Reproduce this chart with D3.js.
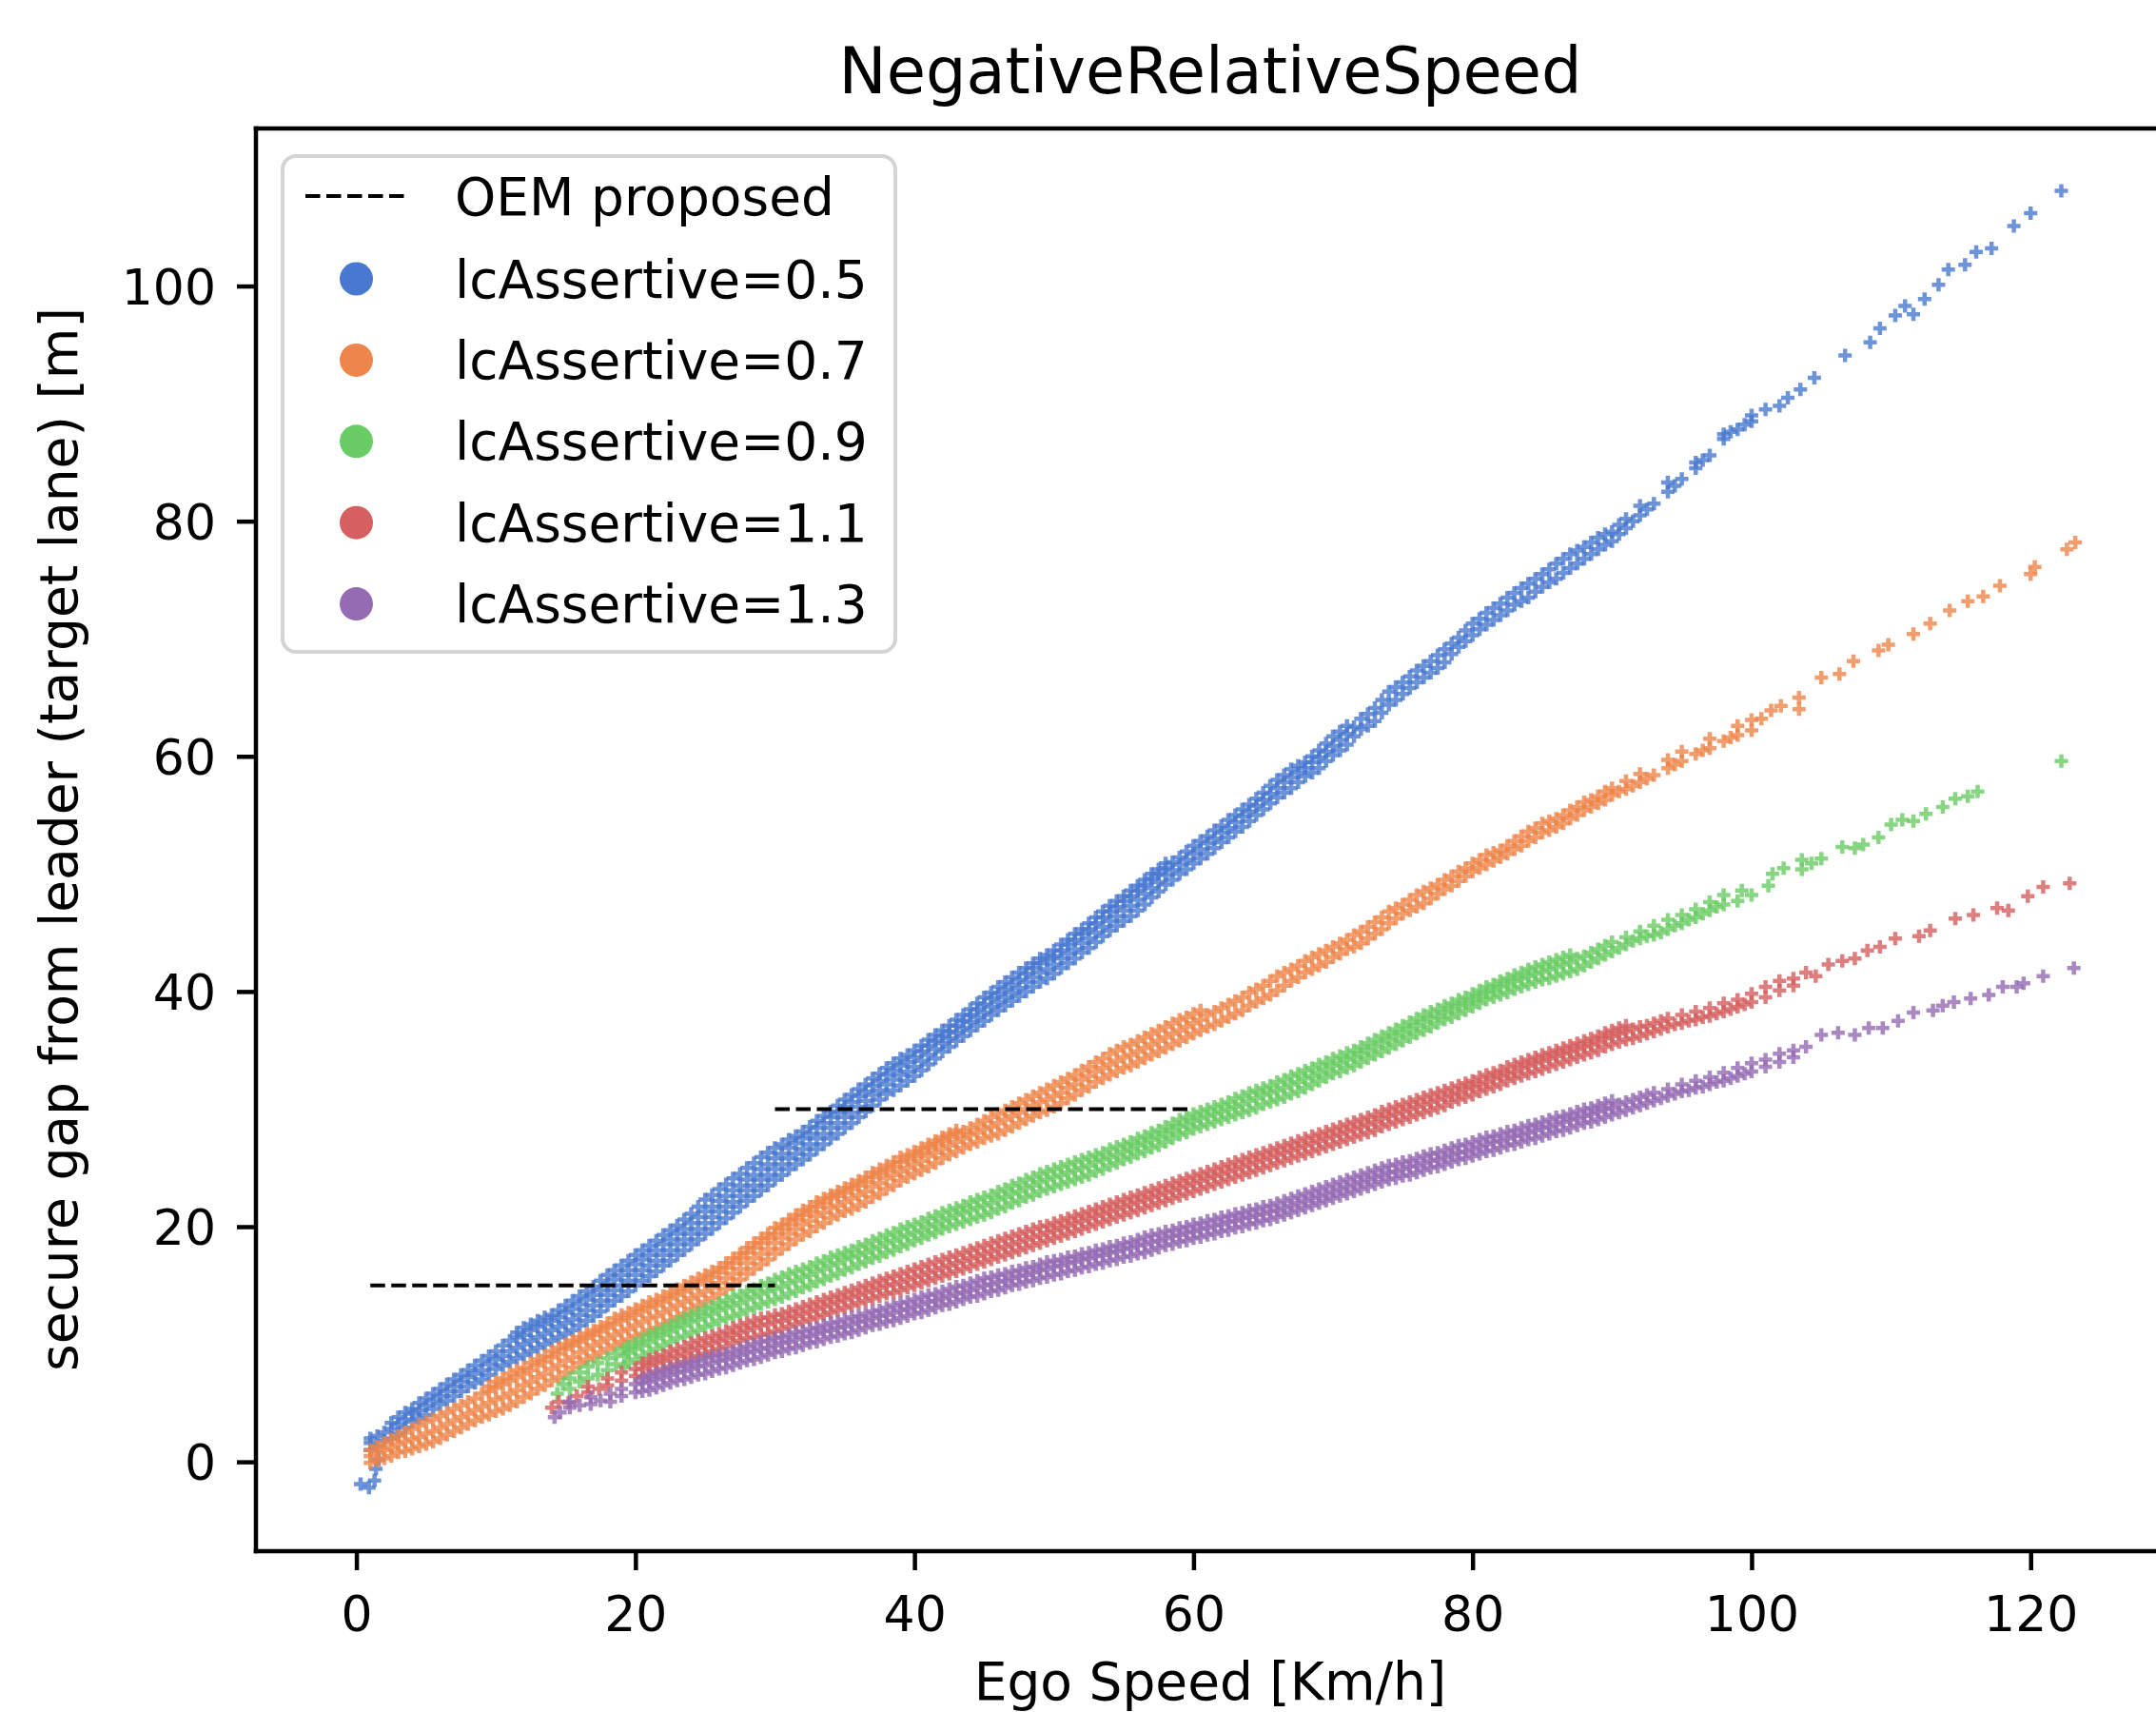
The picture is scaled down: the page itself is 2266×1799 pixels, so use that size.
<!DOCTYPE html>
<html>
<head>
<meta charset="utf-8">
<script src="https://cdn.jsdelivr.net/npm/d3@7"></script>
<style>
  body { margin: 0; background: #fff; }
  text { font-family: "DejaVu Sans", sans-serif; fill: #000; }
</style>
</head>
<body>
<svg id="chart"></svg>
<script>
// tick labels
var speedTicks = [0, 20, 40, 60, 80, 100, 120];
var gapTicks = [0, 20, 40, 60, 80, 100];

var seriesNames = ["lcAssertive=0.5", "lcAssertive=0.7", "lcAssertive=0.9", "lcAssertive=1.1", "lcAssertive=1.3"];
var seriesColors = ["#4878d0", "#ee854a", "#6acc64", "#d65f5f", "#956cb4"];

// OEM proposed gap: [from speed, to speed, gap]
var oemSegments = [[1, 30, 15], [30, 60, 30]];

var gap05 = [
  [0.3,-1.9],[0.9,-2.2],[1.3,-1.6],[1.4,-0.6],[1.6,0.2],
  [1,1.0,1.6,2.0],[2,1.8,2.5],[3,2.4,3.2,3.8],[4,3.4,4.1,4.5],[5,4.0,4.8,5.4],
  [6,4.9,5.6,6.2],[7,5.6,6.4,7.0],[8,6.4,7.2,7.8],[9,7.0,7.8,8.6],[10,7.9,8.7,9.4],
  [11,8.5,9.4,10.3],[12,9.1,10.0,10.8,11.4],[13,9.7,10.6,11.5,12.0],[14,10.3,11.2,12.0,12.5],[15,10.9,11.8,12.7,13.3],
  [16,11.6,12.5,13.4,14.1],[17,12.4,13.3,14.2,14.9],[18,13.3,14.2,15.1,15.9],[19,14.1,15.0,15.9,16.7],[20,15.0,15.9,16.8,17.6],
  [21,15.8,16.7,17.6,18.4],[22,16.7,17.6,18.5,19.3],[23,17.6,18.5,19.4,20.1],[24,18.5,19.4,20.3,21.1],[25,19.4,20.3,21.3,22.3],
  [26,20.3,21.3,22.2,23.2],[27,21.2,22.1,23.1,24.1],[28,22.2,23.1,24.0,25.0],[29,23.1,24.0,24.9,25.9],[30,24.0,24.9,25.8,26.7],
  [31,24.9,25.8,26.7,27.4],[32,25.7,26.6,27.5,28.1],[33,26.6,27.5,28.4,29.0],[34,27.5,28.4,29.3,29.8],[35,28.4,29.3,30.2,30.8],
  [36,29.3,30.2,31.1,31.7],[37,30.3,31.2,32.0,32.6],[38,31.3,32.1,32.9,33.5],[39,32.0,32.9,33.7,34.3],[40,32.8,33.6,34.4,35.0],
  [41,33.8,34.6,35.4,35.9],[42,34.9,35.6,36.2,36.7],[43,35.8,36.5,37.1,37.6],[44,36.7,37.4,38.0,38.5],[45,37.5,38.2,38.9,39.5],
  [46,38.4,39.1,39.8,40.4],[47,39.2,39.9,40.6,41.2],[48,40.0,40.8,41.5,42.0],[49,40.8,41.6,42.4,42.8],[50,41.5,42.3,43.0,43.5],
  [51,42.4,43.2,44.0,44.4],[52,43.3,44.1,44.9,45.3],[53,44.2,45.0,45.8,46.3],[54,45.2,46.0,46.8,47.3],[55,46.0,46.9,47.7,48.1],
  [56,46.9,47.8,48.6,49.0],[57,48.0,48.8,49.6,50.0],[58,49.1,49.9,50.5,50.9],[59,50.0,50.8,51.4],[60,50.9,51.7,52.4],
  [61,51.7,52.6,53.2],[62,52.7,53.5,54.1],[63,53.6,54.4,55.0],[64,54.5,55.3,55.9],[65,55.5,56.3,56.9],
  [66,56.5,57.3,58.0],[67,57.3,58.2,58.9],[68,58.3,59.0,59.5],[69,59.0,59.9,60.5],[70,60.1,60.9,61.7],
  [71,61.0,61.9,62.6],[72,62.3,63.2],[73,63.0,64.1],[74,64.4,65.5],[75,65.3,66.3],
  [76,66.3,67.3],[77,67.1,68.1],[78,68.0,69.1],[79,69.3,70.1],[80,70.3,71.3],
  [81,71.2,72.2],[82,72.0,73.0],[83,72.9,73.9],[84,73.5,74.7],[85,74.4,75.5],
  [86,75.1,76.4],[87,76.0,77.2],[88,76.8,77.8],[89,77.6,78.6],[90,78.3,79.1],
  [91,79.4,80.2],[92,80.5,81.3],[93,81.5],[94,82.5,83.3],[95,83.6],[96,84.5,85.0],[97,85.6],[98,87.0,87.4],[99,87.8],[100,88.5,89.0],
  [101,89.5],[102,89.8],[102.6,90.5],[103.5,91.2],[104.5,92.2],[106.7,94.1],[108.5,95.2],[109.2,96.4],[110.3,97.5],[111,98.3],
  [111.6,97.6],[112.4,98.9],[113.4,100.1],[114.1,101.4],[115.3,101.8],[116.1,102.9],[117.2,103.2],[118.8,105.1],[120,106.2],[122.2,108.1],
  // in-between samples
  [1.5,1.3,2.2],[2.5,2.0,2.8,3.3],[3.5,2.9,3.6,4.2],[4.5,3.7,4.4,5.0],[5.5,4.5,5.2,5.8],
  [6.5,5.2,6.0,6.6],[7.5,6.0,6.8,7.4],[8.5,6.7,7.5,8.2],[9.5,7.4,8.3,9.0],[10.5,8.2,9.0,9.9],
  [11.5,8.8,9.7,10.6,11.0],[12.5,9.4,10.3,11.2,11.7],[13.5,10.0,10.9,11.7,12.3],[14.5,10.6,11.5,12.3,12.9],[15.5,11.2,12.1,13.0,13.7],
  [16.5,12.0,12.9,13.8,14.5],[17.5,12.8,13.7,14.6,15.4],[18.5,13.7,14.6,15.5,16.3],[19.5,14.5,15.4,16.3,17.1],[20.5,15.4,16.3,17.2,18.0],
  [21.5,16.2,17.1,18.0,18.8],[22.5,17.1,18.0,18.9,19.7],[23.5,18.0,18.9,19.8,20.6],[24.5,18.9,19.8,20.8,21.7],[25.5,19.8,20.8,21.7,22.7],
  [26.5,20.7,21.7,22.6,23.6],[27.5,21.7,22.6,23.5,24.5],[28.5,22.6,23.5,24.4,25.4],[29.5,23.5,24.4,25.3,26.3],[30.5,24.4,25.3,26.2,27.0],
  [31.5,25.3,26.2,27.1,27.7],[32.5,26.1,27.0,27.9,28.5],[33.5,27.0,27.9,28.8,29.4],[34.5,27.9,28.8,29.7,30.3],[35.5,28.8,29.7,30.6,31.2],
  [36.5,29.8,30.7,31.5,32.1],[37.5,30.8,31.6,32.4,33.0],[38.5,31.6,32.5,33.3,33.9],[39.5,32.4,33.2,34.0,34.6],[40.5,33.3,34.1,34.9,35.4],
  [41.5,34.3,35.1,35.8,36.3],[42.5,35.3,36.0,36.6,37.1],[43.5,36.2,36.9,37.5,38.0],[44.5,37.1,37.8,38.5,39.0],[45.5,38.0,38.7,39.4,39.9],
  [46.5,38.8,39.5,40.2,40.8],[47.5,39.6,40.3,41.0,41.6],[48.5,40.4,41.2,42.0,42.4],[49.5,41.1,41.9,42.7,43.1],[50.5,42.0,42.8,43.5,44.0],
  [51.5,42.8,43.6,44.4,44.9],[52.5,43.7,44.5,45.3,45.8],[53.5,44.7,45.5,46.3,46.8],[54.5,45.6,46.4,47.2,47.7],[55.5,46.4,47.3,48.1,48.6],
  [56.5,47.4,48.3,49.1,49.5],[57.5,48.5,49.3,50.0,50.4],[58.5,49.5,50.3,51.0],[59.5,50.4,51.2,51.9],[60.5,51.3,52.1,52.8],
  [61.5,52.2,53.0,53.7],[62.5,53.1,53.9,54.6],[63.5,54.0,54.9,55.5],[64.5,55.0,55.8,56.4],[65.5,56.0,56.8,57.5],
  [66.5,56.9,57.8,58.4],[67.5,57.8,58.6,59.2],[68.5,58.6,59.5,60.0],[69.5,59.6,60.4,61.1],[70.5,60.5,61.4,62.1],
  [71.5,61.7,62.5],[72.5,62.6,63.6],[73.5,63.7,64.8],[74.5,64.8,65.9],[75.5,65.8,66.8],
  [76.5,66.7,67.7],[77.5,67.5,68.6],[78.5,68.7,69.6],[79.5,69.8,70.7],[80.5,70.8,71.7],
  [81.5,71.6,72.6],[82.5,72.4,73.5],[83.5,73.2,74.3],[84.5,74.0,75.1],[85.5,74.8,75.9],
  [86.5,75.6,76.8],[87.5,76.4,77.5],[88.5,77.2,78.2],[89.5,78.0,78.9],[90.5,78.9,79.7],
  [91.5,80.0],[92.5,81.0],[94.5,83.0],[96.5,85.2],[98.5,87.6],[99.5,88.2]
];

var gap07 = [
  [1,-0.1,0.5,1.0],[2,0.3,1.0,1.6],[3,0.8,1.5,2.2],[4,1.1,1.9,2.8],[5,1.5,2.4,3.4],
  [6,2.0,2.9,3.9],[7,2.6,3.5,4.5],[8,3.2,4.1,5.1],[9,3.8,4.7,5.8],[10,4.3,5.3,6.3,6.8],
  [11,4.8,5.8,6.9,7.5],[12,5.5,6.5,7.5,8.0],[13,6.2,7.2,8.2,8.7],[14,6.9,7.9,8.9,9.4],[15,7.6,8.6,9.6,10.0],
  [16,8.4,9.3,10.2,10.6],[17,9.0,9.9,10.8,11.2],[18,9.6,10.5,11.4,11.8],[19,10.2,11.1,12.0,12.5],[20,10.7,11.6,12.5,13.0],
  [21,11.2,12.2,13.1,13.6],[22,11.7,12.7,13.6,14.1],[23,12.3,13.3,14.2,14.7],[24,13.0,13.9,14.8,15.3],[25,13.6,14.5,15.4,15.9],
  [26,14.3,15.2,16.1,16.5],[27,15.1,16.0,16.9,17.3],[28,16.0,16.9,17.8,18.2],[29,16.8,17.7,18.6,19.0],[30,17.7,18.6,19.4,19.9],
  [31,18.5,19.4,20.2,20.6],[32,19.3,20.2,21.0,21.4],[33,20.0,20.9,21.7,22.1],[34,20.7,21.6,22.4,22.7],[35,21.3,22.1,22.9,23.3],
  [36,21.8,22.7,23.5,23.9],[37,22.5,23.4,24.2,24.6],[38,23.2,24.1,24.8,25.2],[39,23.9,24.7,25.5,25.9],[40,24.5,25.3,26.0,26.4],
  [41,25.1,26.0,26.7,27.0],[42,25.8,26.6,27.3,27.6],[43,26.4,27.2,27.9,28.2],[44,27.0,27.8,28.4],[45,27.5,28.3,29.0],
  [46,27.9,28.8,29.6],[47,28.5,29.4,30.2],[48,29.1,30.0,30.8],[49,29.7,30.6,31.4],[50,30.2,31.1,32.0],
  [51,30.9,31.8,32.6],[52,31.6,32.5,33.3],[53,32.3,33.2,34.0],[54,32.9,33.8,34.7],[55,33.5,34.4,35.3],
  [56,34.0,34.9,35.8],[57,34.6,35.5,36.4],[58,35.2,36.1,37.0],[59,35.8,36.7,37.6],[60,36.4,37.3,38.1],
  [61,37.0,38.0],[62,37.5,38.6],[63,38.1,39.2],[64,38.8,39.9],[65,39.4,40.5],
  [66,40.1,41.3],[67,40.9,41.9],[68,41.6,42.6],[69,42.2,43.2],[70,42.9,43.8],
  [71,43.6,44.4],[72,44.1,45.1],[73,44.9,45.9],[74,45.8,46.8],[75,46.6,47.4],
  [76,47.2,48.2],[77,47.9,48.8],[78,48.7,49.5],[79,49.4,50.2],[80,50.2,50.9],
  [81,50.8,51.6],[82,51.4,52.0],[83,52.1,52.8],[84,52.8,53.6],[85,53.5,54.3],
  [86,54.0,54.7],[87,54.7,55.4],[88,55.4,56.1],[89,56.0,56.6],[90,56.7,57.3],
  [91,57.2,57.9],[92,57.8,58.5],[93,58.4],[94,59.0,59.7],[95,59.6,60.4],[96,60.2],[97,60.7,61.5],[98,61.3],[99,61.8,62.6],[100,62.2,63.1],
  [100.7,63.2],[101.4,63.9],[102.1,64.3],[103.4,64.0,65.0],[105,66.7],[106.3,67.0],[107.3,68.1],[109.1,69.0],[109.8,69.5],[111.6,70.4],
  [112.8,71.3],[114.2,72.4],[115.5,73.2],[116.6,73.6],[117.8,74.5],[120,75.5],[120.3,76.1],[122.6,77.6],[123.2,78.2],
  // in-between samples
  [1.5,0.1,0.8,1.3],[2.5,0.5,1.2,1.9],[3.5,0.9,1.7,2.5],[4.5,1.3,2.1,3.1],[5.5,1.7,2.6,3.6],
  [6.5,2.3,3.2,4.2],[7.5,2.9,3.8,4.8],[8.5,3.5,4.4,5.4],[9.5,4.0,5.0,6.0,6.4],[10.5,4.5,5.5,6.6,7.1],
  [11.5,5.1,6.1,7.2,7.8],[12.5,5.8,6.8,7.8,8.4],[13.5,6.5,7.5,8.5,9.0],[14.5,7.2,8.2,9.2,9.7],[15.5,8.0,8.9,9.9,10.3],
  [16.5,8.7,9.6,10.5,10.9],[17.5,9.3,10.2,11.1,11.5],[18.5,9.9,10.8,11.7,12.2],[19.5,10.4,11.3,12.2,12.7],[20.5,10.9,11.9,12.8,13.3],
  [21.5,11.4,12.4,13.3,13.8],[22.5,12.0,13.0,13.9,14.4],[23.5,12.6,13.6,14.5,15.0],[24.5,13.3,14.2,15.1,15.6],[25.5,13.9,14.8,15.7,16.2],
  [26.5,14.7,15.6,16.5,16.9],[27.5,15.5,16.4,17.3,17.7],[28.5,16.4,17.3,18.2,18.6],[29.5,17.2,18.1,19.0,19.4],[30.5,18.1,19.0,19.8,20.2],
  [31.5,18.9,19.8,20.6,21.0],[32.5,19.6,20.5,21.3,21.7],[33.5,20.3,21.2,22.0,22.4],[34.5,21.0,21.8,22.6,23.0],[35.5,21.5,22.4,23.2,23.6],
  [36.5,22.1,23.0,23.8,24.2],[37.5,22.8,23.7,24.5,24.9],[38.5,23.5,24.4,25.1,25.5],[39.5,24.2,25.0,25.7,26.1],[40.5,24.8,25.6,26.3,26.7],
  [41.5,25.4,26.3,27.0,27.3],[42.5,26.1,26.9,27.6,27.9],[43.5,26.7,27.5,28.1],[44.5,27.2,28.0,28.7],[45.5,27.7,28.5,29.3],
  [46.5,28.2,29.1,29.9],[47.5,28.8,29.7,30.5],[48.5,29.4,30.3,31.1],[49.5,29.9,30.8,31.7],[50.5,30.5,31.4,32.3],
  [51.5,31.2,32.1,32.9],[52.5,31.9,32.8,33.6],[53.5,32.6,33.5,34.3],[54.5,33.2,34.1,35.0],[55.5,33.7,34.6,35.5],
  [56.5,34.3,35.2,36.1],[57.5,34.9,35.8,36.7],[58.5,35.5,36.4,37.3],[59.5,36.1,37.0,37.8],[60.5,36.7,37.6,38.4],
  [61.5,37.2,38.3],[62.5,37.8,38.9],[63.5,38.4,39.5],[64.5,39.1,40.2],[65.5,39.7,40.9],
  [66.5,40.5,41.6],[67.5,41.2,42.2],[68.5,41.9,42.9],[69.5,42.5,43.5],[70.5,43.2,44.1],
  [71.5,43.8,44.8],[72.5,44.5,45.5],[73.5,45.3,46.3],[74.5,46.2,47.1],[75.5,46.9,47.8],
  [76.5,47.5,48.5],[77.5,48.3,49.1],[78.5,49.0,49.8],[79.5,49.8,50.5],[80.5,50.5,51.2],
  [81.5,51.1,51.8],[82.5,51.7,52.4],[83.5,52.4,53.2],[84.5,53.1,53.9],[85.5,53.7,54.5],
  [86.5,54.3,55.0],[87.5,55.0,55.7],[88.5,55.7,56.3],[89.5,56.3,57.0],[90.5,57.0],
  [91.5,57.5],[92.5,58.1],[94.5,59.3],[96.5,60.5],[98.5,61.6]
];

var gap09 = [
  [14.4,5.8],[14.8,6.6],[15.3,6.2,7.1],[16,6.8,7.6],[16.6,7.1,8.1],[17.3,7.4,8.4],[18,7.8,8.8],[18.6,8.3,9.2],
  [19.2,8.1,9.0,9.6],[20,8.7,9.6,10.1],[21,9.3,10.2,10.8],[22,9.9,10.8,11.3],[23,10.5,11.4,11.9],
  [24,11.0,11.9,12.5],[25,11.5,12.4,13.0],[26,12.0,12.9,13.5],[27,12.4,13.3,14.0],[28,12.9,13.8,14.5],
  [29,13.4,14.3,15.0],[30,13.8,14.7,15.5],[31,14.3,15.2,16.0],[32,14.8,15.7,16.4],[33,15.3,16.2,16.9],
  [34,15.8,16.7,17.4],[35,16.3,17.2,17.8],[36,16.8,17.6,18.3],[37,17.3,18.1,18.8],[38,17.8,18.6,19.3],
  [39,18.3,19.1,19.8],[40,18.8,19.5,20.2],[41,19.3,20.0,20.7],[42,19.8,20.5,21.2],[43,20.2,21.0,21.6],
  [44,20.6,21.4,22.1],[45,21.0,21.8,22.5],[46,21.5,22.3,23.0],[47,22.0,22.8,23.5],[48,22.5,23.3,24.0],
  [49,23.0,23.8,24.5],[50,23.4,24.2,24.9],[51,23.8,24.6,25.3],[52,24.2,25.0,25.7],[53,24.7,25.5,26.1],
  [54,25.2,25.9,26.6],[55,25.7,26.4,27.0],[56,26.2,26.9,27.5],[57,26.7,27.4,28.0],[58,27.2,27.9,28.5],
  [59,27.8,28.5,29.1],[60,28.3,29.0,29.6],[61,28.7,29.4,30.0],[62,29.1,29.8,30.4],[63,29.5,30.2,30.9],
  [64,29.9,30.7,31.4],[65,30.4,31.2,31.8],[66,30.8,31.6,32.3],[67,31.3,32.1,32.8],[68,31.8,32.6,33.3],
  [69,32.4,33.1,33.8],[70,33.0,33.7,34.3],[71,33.5,34.2,34.8],[72,34.0,34.7,35.3],[73,34.6,35.3,35.9],
  [74,35.2,35.9,36.5],[75,35.8,36.5,37.1],[76,36.4,37.1,37.7],[77,37.0,37.7,38.3],[78,37.6,38.2,38.8],
  [79,38.1,38.8,39.3],[80,38.7,39.3,39.8],[81,39.3,39.9,40.4],[82,39.7,40.4,40.9],[83,40.2,40.9,41.4],
  [84,40.6,41.3,41.9],[85,41.0,41.7,42.3],[86,41.3,42.1,42.7],[87,41.7,42.5,43.1],[88,42.2,43.0],
  [89,42.8,43.6],[90,43.4,44.2],[91,44.0,44.6],[92,44.5,45.1],[93,44.8,45.6],[94,45.3,46.1],[95,45.8,46.5],
  [96,46.3,47.0],[97,46.9,47.6],[98,47.4,48.2],[99,47.7],[99.3,48.6],[100,48.2],[101.2,49.0],[101.5,50.0],
  [102.3,50.5],[103.6,50.4,51.2],[104.3,50.9],[105,51.3],[106.5,52.3],[107.4,52.2],[108,52.5],[109.1,53.1],
  [110,54.2],[110.8,54.6],[111.6,54.5],[112.5,55.1],[113.7,55.7],[114.6,56.4],[115.5,56.6],[116.2,57.0],[122.2,59.6],
  // in-between samples
  [19.5,8.4,9.3,9.8],[20.5,9.0,9.9,10.4],[21.5,9.6,10.5,11.0],[22.5,10.2,11.1,11.6],[23.5,10.7,11.6,12.2],
  [24.5,11.2,12.1,12.7],[25.5,11.7,12.6,13.2],[26.5,12.2,13.1,13.7],[27.5,12.6,13.5,14.2],[28.5,13.1,14.0,14.7],
  [29.5,13.6,14.5,15.2],[30.5,14.0,14.9,15.7],[31.5,14.5,15.4,16.2],[32.5,15.0,15.9,16.6],[33.5,15.5,16.4,17.1],
  [34.5,16.0,16.9,17.6],[35.5,16.5,17.4,18.0],[36.5,17.0,17.8,18.5],[37.5,17.5,18.3,19.0],[38.5,18.0,18.8,19.5],
  [39.5,18.5,19.3,20.0],[40.5,19.0,19.7,20.4],[41.5,19.5,20.2,20.9],[42.5,20.0,20.7,21.4],[43.5,20.4,21.2,21.8],
  [44.5,20.8,21.6,22.3],[45.5,21.2,22.0,22.7],[46.5,21.7,22.5,23.2],[47.5,22.2,23.0,23.7],[48.5,22.7,23.5,24.2],
  [49.5,23.2,24.0,24.7],[50.5,23.6,24.4,25.1],[51.5,24.0,24.8,25.5],[52.5,24.4,25.2,25.9],[53.5,24.9,25.7,26.3],
  [54.5,25.4,26.1,26.8],[55.5,25.9,26.6,27.2],[56.5,26.4,27.1,27.7],[57.5,26.9,27.6,28.2],[58.5,27.5,28.2,28.8],
  [59.5,28.0,28.7,29.3],[60.5,28.5,29.2,29.8],[61.5,28.9,29.6,30.2],[62.5,29.3,30.0,30.6],[63.5,29.7,30.4,31.1],
  [64.5,30.1,30.9,31.6],[65.5,30.6,31.4,32.0],[66.5,31.0,31.8,32.5],[67.5,31.5,32.3,33.0],[68.5,32.1,32.8,33.5],
  [69.5,32.7,33.4,34.0],[70.5,33.2,33.9,34.5],[71.5,33.7,34.4,35.0],[72.5,34.3,35.0,35.6],[73.5,34.9,35.6,36.2],
  [74.5,35.5,36.2,36.8],[75.5,36.1,36.8,37.4],[76.5,36.7,37.4,38.0],[77.5,37.3,37.9,38.5],[78.5,37.8,38.5,39.0],
  [79.5,38.4,39.0,39.5],[80.5,39.0,39.6,40.1],[81.5,39.5,40.1,40.6],[82.5,39.9,40.6,41.1],[83.5,40.4,41.1,41.6],
  [84.5,40.8,41.5,42.1],[85.5,41.1,41.9,42.5],[86.5,41.5,42.3,42.9],[87.5,41.9,42.8],[88.5,42.5,43.3],
  [89.5,43.1,43.9],[90.5,43.7],[91.5,44.3],[92.5,44.7],[93.5,45.0],[94.5,45.6],[95.5,46.1],[96.5,46.6],[97.5,47.2]
];

var gap11 = [
  [14.0,4.6],[14.5,5.1],[15.2,5.0],[15.8,5.6],[16.6,5.9,6.4],[17.4,6.2],[18,6.5,7.1],[19,6.9,7.6],[20,7.3,7.9],
  [21,7.5,8.2,8.7],[22,7.9,8.6,9.1],[23,8.3,9.0,9.6],[24,8.8,9.5,10.1],[25,9.2,9.9,10.5],
  [26,9.6,10.3,10.9],[27,10.1,10.8,11.4],[28,10.5,11.2,11.8],[29,10.8,11.6,12.2],[30,11.1,11.9,12.5],
  [31,11.5,12.2,12.8],[32,11.9,12.6,13.2],[33,12.3,13.0,13.6],[34,12.7,13.4,14.0],[35,13.1,13.8,14.4],
  [36,13.5,14.2,14.8],[37,13.9,14.6,15.2],[38,14.3,15.0,15.6],[39,14.6,15.3,16.0],[40,15.0,15.7,16.4],
  [41,15.4,16.1,16.8],[42,15.8,16.5,17.2],[43,16.2,16.9,17.6],[44,16.6,17.3,18.0],[45,17.0,17.7,18.4],
  [46,17.4,18.1,18.8],[47,17.8,18.5,19.2],[48,18.2,18.9,19.6],[49,18.6,19.3,20.0],[50,19.0,19.7,20.3],
  [51,19.4,20.1,20.7],[52,19.8,20.5,21.1],[53,20.2,20.9,21.5],[54,20.6,21.3,21.9],[55,21.0,21.7,22.3],
  [56,21.4,22.1,22.7],[57,21.8,22.5,23.1],[58,22.2,22.9,23.5],[59,22.6,23.3,23.9],[60,23.0,23.7,24.3],
  [61,23.4,24.1,24.7],[62,23.8,24.5,25.1],[63,24.2,24.9,25.5],[64,24.6,25.3,25.9],[65,25.0,25.7,26.3],
  [66,25.4,26.1,26.7],[67,25.8,26.5,27.1],[68,26.2,26.9,27.5],[69,26.6,27.3,27.9],[70,27.0,27.7,28.3],
  [71,27.4,28.1,28.7],[72,27.8,28.5,29.1],[73,28.2,28.9,29.5],[74,28.7,29.4,30.0],[75,29.1,29.8,30.4],
  [76,29.5,30.2,30.8],[77,29.9,30.6,31.2],[78,30.3,31.0,31.6],[79,30.8,31.4,32.0],[80,31.2,31.9,32.4],
  [81,31.7,32.3,32.9],[82,32.1,32.8,33.3],[83,32.6,33.2,33.8],[84,33.0,33.7,34.2],[85,33.4,34.1,34.6],
  [86,33.8,34.5,35.0],[87,34.2,34.9,35.4],[88,34.6,35.3,35.8],[89,35.0,35.7,36.2],[90,35.5,36.2,36.7],
  [91,35.9,36.6,37.1],[92,36.2,37.0],[93,36.6,37.3],[94,37.0,37.7],[95,37.3,38.0],[96,37.6,38.3],
  [97,37.9,38.6],[98,38.3,39.0],[99,38.7,39.3],[100,39.1,39.8],[101,39.5,40.4],[102,40.1,40.9],[103,40.5,41.1],
  [103.9,41.6],[104.6,41.3],[105.5,42.3],[106.5,42.6],[107.4,42.8],[108.3,43.5],[109.2,43.8],[110.3,44.5],
  [112.0,44.7],[112.8,45.2],[114.6,46.2],[115.9,46.5],[117.6,47.1],[118.4,46.9],[119.8,48.1],[120.9,48.9],[122.8,49.2],
  // in-between samples
  [20.5,7.2,7.9,8.4],[21.5,7.7,8.4,8.9],[22.5,8.1,8.8,9.4],[23.5,8.5,9.2,9.8],[24.5,9.0,9.7,10.3],
  [25.5,9.4,10.1,10.7],[26.5,9.8,10.5,11.1],[27.5,10.3,11.0,11.6],[28.5,10.6,11.4,12.0],[29.5,10.9,11.7,12.3],
  [30.5,11.3,12.0,12.6],[31.5,11.7,12.4,13.0],[32.5,12.1,12.8,13.4],[33.5,12.5,13.2,13.8],[34.5,12.9,13.6,14.2],
  [35.5,13.3,14.0,14.6],[36.5,13.7,14.4,15.0],[37.5,14.1,14.8,15.4],[38.5,14.4,15.1,15.8],[39.5,14.8,15.5,16.2],
  [40.5,15.2,15.9,16.6],[41.5,15.6,16.3,17.0],[42.5,16.0,16.7,17.4],[43.5,16.4,17.1,17.8],[44.5,16.8,17.5,18.2],
  [45.5,17.2,17.9,18.6],[46.5,17.6,18.3,19.0],[47.5,18.0,18.7,19.4],[48.5,18.4,19.1,19.8],[49.5,18.8,19.5,20.1],
  [50.5,19.2,19.9,20.5],[51.5,19.6,20.3,20.9],[52.5,20.0,20.7,21.3],[53.5,20.4,21.1,21.7],[54.5,20.8,21.5,22.1],
  [55.5,21.2,21.9,22.5],[56.5,21.6,22.3,22.9],[57.5,22.0,22.7,23.3],[58.5,22.4,23.1,23.7],[59.5,22.8,23.5,24.1],
  [60.5,23.2,23.9,24.5],[61.5,23.6,24.3,24.9],[62.5,24.0,24.7,25.3],[63.5,24.4,25.1,25.7],[64.5,24.8,25.5,26.1],
  [65.5,25.2,25.9,26.5],[66.5,25.6,26.3,26.9],[67.5,26.0,26.7,27.3],[68.5,26.4,27.1,27.7],[69.5,26.8,27.5,28.1],
  [70.5,27.2,27.9,28.5],[71.5,27.6,28.3,28.9],[72.5,28.0,28.7,29.3],[73.5,28.5,29.2,29.8],[74.5,28.9,29.6,30.2],
  [75.5,29.3,30.0,30.6],[76.5,29.7,30.4,31.0],[77.5,30.1,30.8,31.4],[78.5,30.6,31.2,31.8],[79.5,31.0,31.7,32.2],
  [80.5,31.5,32.1,32.7],[81.5,31.9,32.6,33.1],[82.5,32.4,33.0,33.6],[83.5,32.8,33.5,34.0],[84.5,33.2,33.9,34.4],
  [85.5,33.6,34.3,34.8],[86.5,34.0,34.7,35.2],[87.5,34.4,35.1,35.6],[88.5,34.8,35.5,36.0],[89.5,35.3,36.0,36.5],
  [90.5,35.7,36.4,36.9],[91.5,36.0,36.8],[92.5,36.4,37.1],[93.5,36.8,37.5],[94.5,37.2],[95.5,37.5],
  [96.5,37.8],[97.5,38.1],[98.5,38.5],[99.5,38.9]
];

var gap13 = [
  [14.2,3.8],[14.6,4.2],[15.3,4.6,5.1],[16,4.8],[16.8,4.9,5.5],[17.5,5.2],[18.2,5.1,5.8],[19,5.6,6.2],[20,5.9,6.6],
  [21,6.1,6.8,7.3],[22,6.5,7.2,7.7],[23,6.9,7.6,8.1],[24,7.2,7.9,8.4],[25,7.5,8.2,8.8],
  [26,7.9,8.6,9.1],[27,8.2,8.9,9.4],[28,8.6,9.3,9.8],[29,8.9,9.6,10.2],[30,9.3,9.9,10.5],
  [31,9.6,10.2,10.8],[32,9.9,10.6,11.1],[33,10.2,10.9,11.4],[34,10.6,11.2,11.8],[35,10.9,11.5,12.1],
  [36,11.2,11.9,12.4],[37,11.6,12.2,12.8],[38,11.9,12.5,13.1],[39,12.2,12.9,13.5],[40,12.6,13.2,13.8],
  [41,12.9,13.6,14.2],[42,13.3,13.9,14.5],[43,13.6,14.3,14.9],[44,14.0,14.6,15.2],[45,14.3,15.0,15.6],
  [46,14.6,15.3,15.9],[47,15.0,15.6,16.2],[48,15.3,15.9,16.5],[49,15.6,16.3,16.8],[50,15.9,16.6,17.1],
  [51,16.2,16.9,17.4],[52,16.5,17.2,17.7],[53,16.8,17.5,18.0],[54,17.1,17.8,18.3],[55,17.4,18.1,18.6],
  [56,17.7,18.4,18.9],[57,18.0,18.7,19.3],[58,18.4,19.0,19.6],[59,18.7,19.3,19.9],[60,19.0,19.6,20.2],
  [61,19.3,19.9,20.5],[62,19.6,20.2,20.8],[63,19.9,20.5,21.1],[64,20.2,20.8,21.4],[65,20.5,21.1,21.7],
  [66,20.8,21.4,22.0],[67,21.2,21.8,22.4],[68,21.6,22.2,22.8],[69,22.0,22.6,23.2],[70,22.4,23.0,23.6],
  [71,22.8,23.4,24.0],[72,23.2,23.8,24.4],[73,23.6,24.2,24.8],[74,24.0,24.6,25.2],[75,24.3,24.9,25.5],
  [76,24.6,25.2,25.8],[77,25.0,25.6,26.2],[78,25.3,25.9,26.5],[79,25.7,26.3,26.9],[80,26.0,26.6,27.2],
  [81,26.4,27.0,27.6],[82,26.7,27.3,27.9],[83,27.0,27.7,28.2],[84,27.4,28.0,28.6],[85,27.7,28.4,28.9],
  [86,28.1,28.7,29.3],[87,28.4,29.1,29.6],[88,28.8,29.4,30.0],[89,29.1,29.8,30.3],[90,29.5,30.1,30.7],
  [91,29.9,30.6],[92,30.3,31.0],[93,30.7,31.4],[94,31.1,31.7],[95,31.5,32.1],[96,31.8,32.4],
  [97,32.1,32.7],[98,32.4,33.1],[99,32.8,33.5],[100,33.2,33.9],[101,33.6,34.2],[102,34.0,34.7],[103,34.4,35.0],
  [103.9,35.3],[105,36.3],[106.2,36.5],[107.4,36.3],[108.4,36.9],[109.4,36.9],[110.5,37.5],[111.6,38.2],[113,38.4],
  [113.7,38.8],[114.5,39.1],[115.7,39.4],[117,39.7],[118,40.4],[119,40.4],[119.5,40.7],[120.9,41.3],[123.1,42.0],
  // in-between samples
  [20.5,6.0,6.7,7.1],[21.5,6.3,7.0,7.5],[22.5,6.7,7.4,7.9],[23.5,7.0,7.7,8.2],[24.5,7.4,8.1,8.6],
  [25.5,7.7,8.4,9.0],[26.5,8.0,8.7,9.2],[27.5,8.4,9.1,9.6],[28.5,8.7,9.4,10.0],[29.5,9.1,9.7,10.3],
  [30.5,9.4,10.1,10.6],[31.5,9.7,10.4,11.0],[32.5,10.1,10.7,11.3],[33.5,10.4,11.1,11.6],[34.5,10.7,11.4,11.9],
  [35.5,11.0,11.7,12.3],[36.5,11.4,12.0,12.6],[37.5,11.7,12.4,12.9],[38.5,12.0,12.7,13.3],[39.5,12.4,13.0,13.6],
  [40.5,12.7,13.4,14.0],[41.5,13.1,13.7,14.3],[42.5,13.4,14.1,14.7],[43.5,13.8,14.4,15.0],[44.5,14.1,14.8,15.4],
  [45.5,14.5,15.1,15.7],[46.5,14.8,15.4,16.0],[47.5,15.1,15.8,16.3],[48.5,15.4,16.1,16.6],[49.5,15.7,16.4,17.0],
  [50.5,16.0,16.7,17.2],[51.5,16.3,17.0,17.5],[52.5,16.6,17.3,17.8],[53.5,16.9,17.6,18.1],[54.5,17.2,17.9,18.4],
  [55.5,17.5,18.2,18.7],[56.5,17.8,18.5,19.1],[57.5,18.2,18.8,19.4],[58.5,18.5,19.2,19.7],[59.5,18.8,19.5,20.0],
  [60.5,19.1,19.8,20.3],[61.5,19.4,20.1,20.6],[62.5,19.7,20.4,20.9],[63.5,20.0,20.7,21.2],[64.5,20.3,21.0,21.5],
  [65.5,20.6,21.3,21.8],[66.5,21.0,21.6,22.2],[67.5,21.4,22.0,22.6],[68.5,21.8,22.4,23.0],[69.5,22.2,22.8,23.4],
  [70.5,22.6,23.2,23.8],[71.5,23.0,23.6,24.2],[72.5,23.4,24.0,24.6],[73.5,23.8,24.4,25.0],[74.5,24.1,24.7,25.3],
  [75.5,24.4,25.1,25.6],[76.5,24.8,25.4,26.0],[77.5,25.1,25.7,26.3],[78.5,25.5,26.1,26.7],[79.5,25.8,26.4,27.0],
  [80.5,26.2,26.8,27.4],[81.5,26.5,27.2,27.7],[82.5,26.9,27.5,28.1],[83.5,27.2,27.8,28.4],[84.5,27.5,28.2,28.7],
  [85.5,27.9,28.5,29.1],[86.5,28.2,28.9,29.4],[87.5,28.6,29.2,29.8],[88.5,28.9,29.6,30.1],[89.5,29.3,30.0,30.5],
  [90.5,29.7,30.4],[91.5,30.1,30.8],[92.5,30.5,31.2],[93.5,30.9],[94.5,31.3],[95.5,31.6],
  [96.5,31.9],[97.5,32.3],[98.5,32.6],[99.5,33.0]
];

var seriesRows = [gap05, gap07, gap09, gap11, gap13];

var width = 2266;
var height = 1799;

var svg = d3.select('#chart')
    .attr('width', width)
    .attr('height', height);

var x = d3.scaleLinear().domain([-7.2, 129.6]).range([269, 2275]);
var y = d3.scaleLinear().domain([-7.6, 113.4]).range([1630, 135]);

svg.append('clipPath')
    .attr('id', 'plot-clip')
  .append('rect')
    .attr('x', x.range()[0])
    .attr('y', y.range()[1])
    .attr('width', x.range()[1] - x.range()[0])
    .attr('height', y.range()[0] - y.range()[1]);

var plot = svg.append('g').attr('clip-path', 'url(#plot-clip)');

// scatter, drawn as small "+" markers
seriesRows.forEach(function (rows, i) {
  var pts = [];
  rows.forEach(function (r) {
    for (var k = 1; k < r.length; k++) pts.push([r[0], r[k]]);
  });
  plot.append('g')
    .selectAll('path')
    .data(pts)
    .enter()
    .append('path')
      .attr('d', 'M-7,0H7M0,-7V7')
      .attr('transform', d => 'translate(' + x(d[0]) + ',' + y(d[1]) + ')')
      .attr('stroke', seriesColors[i])
      .attr('stroke-width', 4.5)
      .attr('stroke-opacity', 0.8)
      .attr('fill', 'none');
});

// OEM proposed dashed lines on top
plot.selectAll('.oem')
  .data(oemSegments)
  .enter()
  .append('line')
    .classed('oem', true)
    .attr('x1', d => x(d[0]))
    .attr('x2', d => x(d[1]))
    .attr('y1', d => y(d[2]))
    .attr('y2', d => y(d[2]))
    .attr('stroke', '#000')
    .attr('stroke-width', 4)
    .attr('stroke-dasharray', '15.5,6.5');

// axes
var xAxis = svg.append('g')
    .attr('transform', 'translate(0,' + y.range()[0] + ')')
    .call(d3.axisBottom(x).tickValues(speedTicks).tickSize(20).tickPadding(27));
var yAxis = svg.append('g')
    .attr('transform', 'translate(' + x.range()[0] + ',0)')
    .call(d3.axisLeft(y).tickValues(gapTicks).tickSize(20).tickPadding(22));

[xAxis, yAxis].forEach(function (g) {
  g.select('.domain').remove();
  g.attr('font-size', 52).attr('font-family', '"DejaVu Sans", sans-serif');
  g.selectAll('.tick line').attr('stroke', '#000').attr('stroke-width', 4.5);
});
yAxis.selectAll('.tick text').attr('dy', '0.36em');

// spines
var spines = [
  [x.range()[0], y.range()[0], x.range()[1], y.range()[0]],
  [x.range()[0], y.range()[1], x.range()[1], y.range()[1]],
  [x.range()[0], y.range()[0], x.range()[0], y.range()[1]],
  [x.range()[1], y.range()[0], x.range()[1], y.range()[1]]
];
svg.selectAll('.spine')
  .data(spines)
  .enter()
  .append('line')
    .classed('spine', true)
    .attr('x1', d => d[0]).attr('y1', d => d[1])
    .attr('x2', d => d[2]).attr('y2', d => d[3])
    .attr('stroke', '#000')
    .attr('stroke-width', 4.5)
    .attr('stroke-linecap', 'square');

// title and axis labels
svg.append('text')
    .attr('x', 1272).attr('y', 98)
    .attr('text-anchor', 'middle')
    .attr('font-size', 67)
    .text('NegativeRelativeSpeed');

svg.append('text')
    .attr('x', 1272).attr('y', 1786)
    .attr('text-anchor', 'middle')
    .attr('font-size', 55)
    .text('Ego Speed [Km/h]');

svg.append('text')
    .attr('transform', 'translate(81,882) rotate(-90)')
    .attr('text-anchor', 'middle')
    .attr('font-size', 55)
    .text('secure gap from leader (target lane) [m]');

// legend
var legend = svg.append('g').attr('transform', 'translate(297,164)');
legend.append('rect')
    .attr('width', 644).attr('height', 521)
    .attr('rx', 14).attr('ry', 14)
    .attr('fill', '#fff')
    .attr('stroke', '#d4d4d4')
    .attr('stroke-width', 4);

var rowStep = 85.4;
legend.append('line')
    .attr('x1', 24).attr('x2', 130)
    .attr('y1', 42).attr('y2', 42)
    .attr('stroke', '#000')
    .attr('stroke-width', 4)
    .attr('stroke-dasharray', '15.5,6.5');
legend.append('text')
    .attr('x', 181).attr('y', 42 + 19.5)
    .attr('font-size', 55)
    .text('OEM proposed');

var items = legend.selectAll('.item')
  .data(seriesNames)
  .enter()
  .append('g')
    .classed('item', true)
    .attr('transform', (d, i) => 'translate(0,' + (129 + i * rowStep) + ')');
items.append('circle')
    .attr('cx', 77.5).attr('cy', 0).attr('r', 17.5)
    .attr('fill', (d, i) => seriesColors[i]);
items.append('text')
    .attr('x', 181).attr('y', 19.5)
    .attr('font-size', 55)
    .text(d => d);
</script>
</body>
</html>
